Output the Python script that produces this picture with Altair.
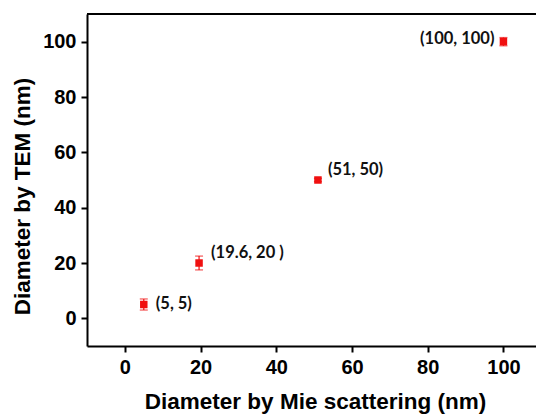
import altair as alt
import pandas as pd

# Particle diameters: Mie scattering estimate vs. TEM measurement (nm)
mie_diameter = [5, 19.6, 51, 100]
tem_diameter = [5, 20, 50, 100]
tem_error = [2.0, 2.5, 0.6, 1.5]
point_labels = ["(5, 5)", "(19.6, 20 )", "(51, 50)", "(100, 100)"]

df = pd.DataFrame({
    "mie": mie_diameter,
    "tem": tem_diameter,
    "err": tem_error,
    "label": point_labels,
})
df["lo"] = df["tem"] - df["err"]
df["hi"] = df["tem"] + df["err"]

RED = "#f01010"
AXIS_FONT = "Liberation Sans"

x_scale = alt.Scale(domain=[-10, 108.6], nice=False, zero=False)
y_scale = alt.Scale(domain=[-10, 110], nice=False, zero=False)

x_axis = alt.Axis(
    values=[0, 20, 40, 60, 80, 100],
    title="Diameter by Mie scattering (nm)",
    titleX=228, titleY=62, titleAlign="center", titleBaseline="alphabetic",
    labelPadding=5,
)
y_axis = alt.Axis(
    values=[0, 20, 40, 60, 80, 100],
    title="Diameter by TEM (nm)",
    titleX=-65, titleY=182, titleAngle=-90,
    titleAlign="center", titleBaseline="middle",
    labelPadding=5,
)

base = alt.Chart(df)

points = base.mark_square(size=56, color=RED, opacity=1).encode(
    x=alt.X("mie:Q", scale=x_scale, axis=x_axis),
    y=alt.Y("tem:Q", scale=y_scale, axis=y_axis),
)

bars = base.mark_rule(color=RED, strokeWidth=1.2).encode(
    x="mie:Q", y="lo:Q", y2="hi:Q"
)
cap_lo = base.mark_tick(color=RED, orient="horizontal", size=8, thickness=1.2).encode(
    x="mie:Q", y="lo:Q"
)
cap_hi = base.mark_tick(color=RED, orient="horizontal", size=8, thickness=1.2).encode(
    x="mie:Q", y="hi:Q"
)

# per-label placement next to each marker
label_style = {
    "(5, 5)": dict(align="left", dx=12, dy=-1),
    "(19.6, 20 )": dict(align="left", dx=12, dy=-10),
    "(51, 50)": dict(align="left", dx=10, dy=-10),
    "(100, 100)": dict(align="right", dx=-9, dy=-3),
}
labels = [
    base.transform_filter(alt.datum.label == name)
    .mark_text(font="Lato", fontWeight="bold", fontSize=16.5, color="#111111",
               baseline="middle", **style)
    .encode(x="mie:Q", y="tem:Q", text="label:N")
    for name, style in label_style.items()
]

top_frame = alt.Chart(df).mark_rule(color="black", strokeWidth=2).encode(
    y=alt.value(0)
)

chart = alt.layer(top_frame, bars, cap_lo, cap_hi, points, *labels).properties(
    width=449,
    height=332,
    autosize=alt.AutoSizeParams(type="none"),
    padding={"left": 87, "top": 14, "right": 0, "bottom": 68},
).configure_view(
    stroke=None
).configure_axis(
    domainColor="black", domainWidth=2,
    tickColor="black", tickWidth=2, tickSize=6,
    grid=False,
    labelFont=AXIS_FONT, labelFontSize=20, labelFontWeight="bold", labelColor="black",
    titleFont=AXIS_FONT, titleFontSize=22.5, titleFontWeight="bold", titleColor="black",
)

chart.save("out.html", embed_options={"renderer": "svg", "actions": False})
